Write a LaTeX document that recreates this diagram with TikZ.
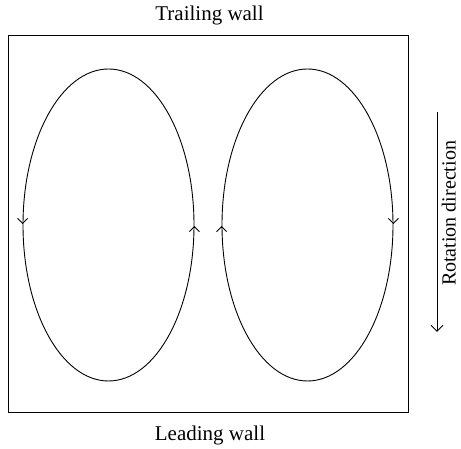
\documentclass[tikz,border=0pt]{standalone}
\usepackage{fontspec}
\setmainfont{Liberation Serif}
\usetikzlibrary{arrows.meta,shapes.geometric}
\begin{document}
\begin{tikzpicture}[x=1pt,y=1pt,
  cell/.style={draw, ellipse, line width=0.9pt, minimum width=171pt, minimum height=312pt, inner sep=0pt},
  wall/.style={draw, line width=1pt, rectangle, minimum width=400pt, minimum height=376.5pt, inner sep=0pt},
  label/.style={font=\fontsize{21}{24}\selectfont, inner sep=0pt, anchor=base},
  tip/.style={line width=0.9pt, -{Straight Barb[length=5pt,width=10pt]}}]
  \useasboundingbox (0,0) rectangle (461,449);
  % duct cross-section
  \node[wall] (duct) at (208,224.75) {};
  % two counter-rotating secondary flow cells
  \node[cell] (L) at (108.5,224) {};
  \node[cell] (R) at (307.5,224) {};
  % flow direction on each cell
  \coordinate (Lw) at ([yshift=2pt]L.west);
  \coordinate (Le) at ([yshift=-2pt]L.east);
  \coordinate (Rw) at ([yshift=-2pt]R.west);
  \coordinate (Re) at ([yshift=2pt]R.east);
  \draw[tip] (Lw) -- +(0,-1);
  \draw[tip] (Le) -- +(0,1);
  \draw[tip] (Rw) -- +(0,1);
  \draw[tip] (Re) -- +(0,-1);
  % wall labels
  \node[label] (trail) at (209.5,428) {Trailing wall};
  \node[label] (lead) at (210,8) {Leading wall};
  % rotation direction
  \coordinate (r0) at (437,337);
  \coordinate (r1) at (437,117);
  \draw[line width=0.9pt, -{Straight Barb[length=6pt,width=12pt]}] (r0) -- (r1);
  \node[label, rotate=90, font=\fontsize{20}{24}\selectfont] (rot) at (455.5,235.5) {Rotation direction};
\end{tikzpicture}
\end{document}
